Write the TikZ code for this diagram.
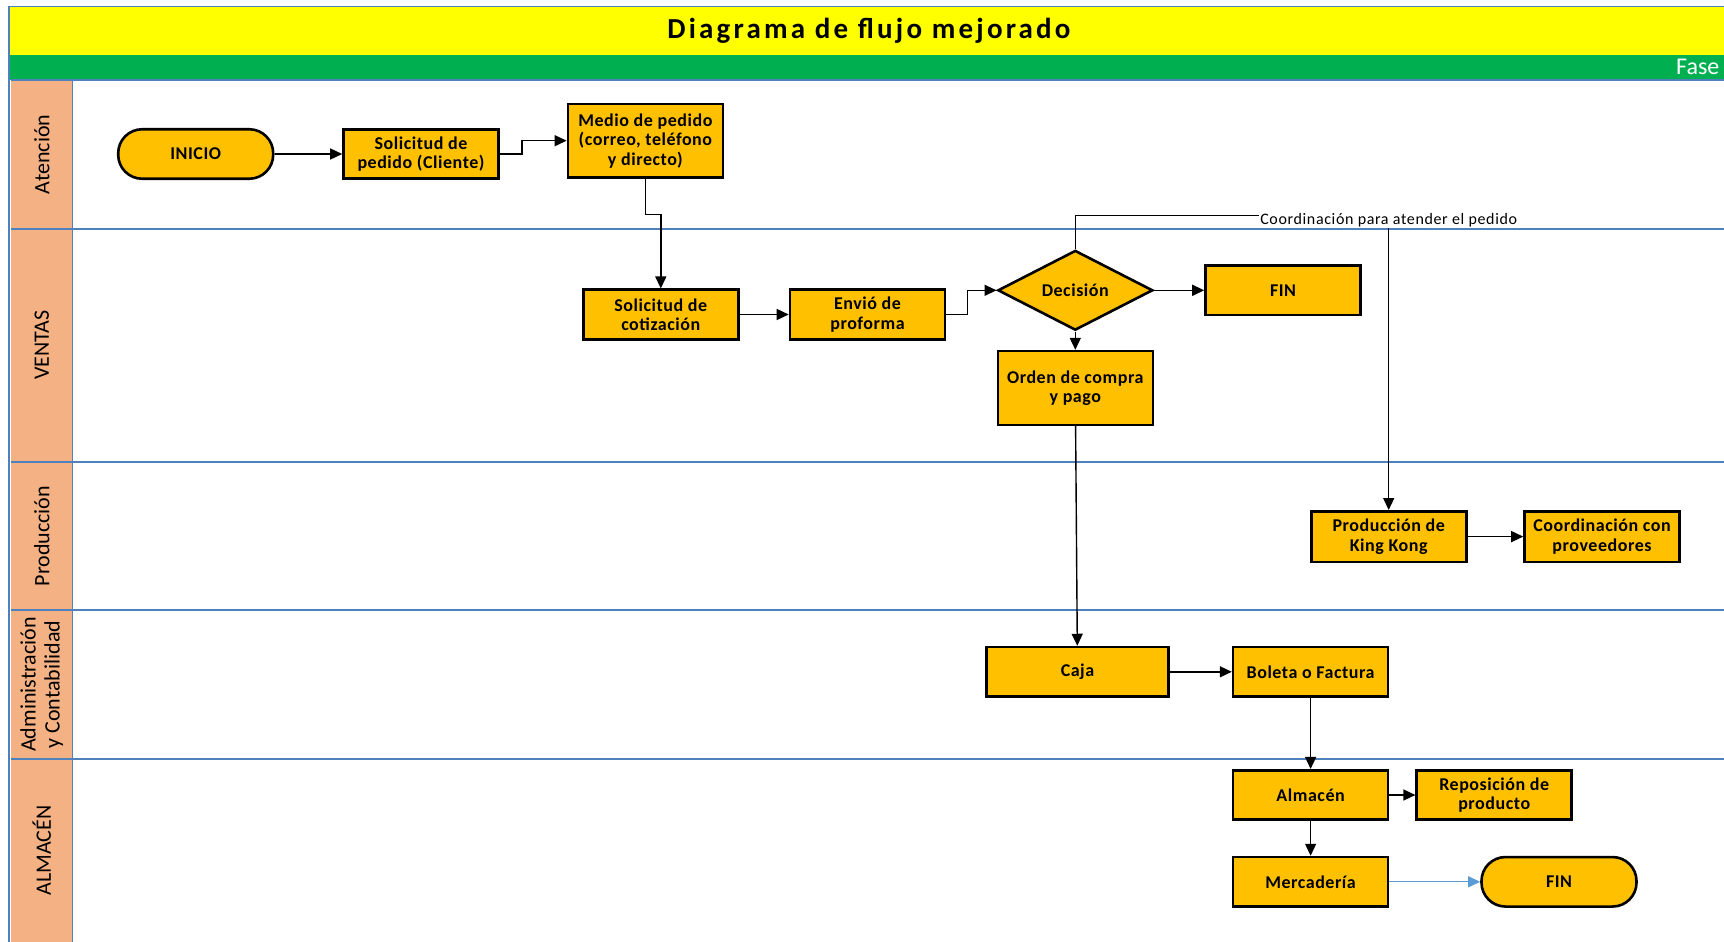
\documentclass[tikz,border=0pt]{standalone}
\usepackage{fontspec}
\setmainfont{Carlito}
\newfontfamily\boxfont[LetterSpace=3]{Carlito}
\newfontfamily\titlefont[LetterSpace=11]{Carlito}
\newfontfamily\notefont[LetterSpace=4]{Carlito}
\usepackage{xcolor}
\usetikzlibrary{arrows.meta,positioning,calc,shapes.geometric}
\definecolor{titleyellow}{HTML}{FFFF00}
\definecolor{phasegreen}{HTML}{00B050}
\definecolor{lanesalmon}{HTML}{F4B183}
\definecolor{boxorange}{HTML}{FFC000}
\definecolor{laneblue}{HTML}{4F81BD}
\definecolor{flowblue}{HTML}{5B9BD5}
\newcommand{\nodefont}{\boxfont\fontsize{18}{19.5}\selectfont\bfseries}

\begin{document}
\begin{tikzpicture}[x=1pt, y=-1pt,
    box/.style={draw=black, line width=2.6pt, fill=boxorange, align=center,
      minimum width=155pt, minimum height=49.5pt, inner sep=2pt, font=\nodefont},
    term/.style={box, rounded corners=24pt},
    deci/.style={box, diamond, minimum width=155pt, minimum height=74pt, inner sep=0pt},
    flow/.style={draw=black, line width=1.4pt, -{Triangle[length=12pt,width=11pt]}},
    lanesep/.style={draw=laneblue, line width=1.6pt},
    lanename/.style={rotate=90, align=center, font=\fontsize{22}{24}\selectfont}]
  \useasboundingbox (0,0) rectangle (1724,942);
  \clip (0,0) rectangle (1724,942);
  % ---- frame, title and phase band ----
  \fill[titleyellow] (8.8,6.6) rectangle (1724,55);
  \fill[phasegreen] (8.8,55) rectangle (1724,80);
  \draw[lanesep] (8.8,942) -- (8.8,6.6) -- (1724,6.6);
  \node[font=\titlefont\fontsize{29}{31}\selectfont\bfseries] (title) at (869,31) {Diagrama de flujo mejorado};
  \node[anchor=west, text=white, font=\fontsize{24}{26}\selectfont, inner sep=0pt] (phase) at (1676,67) {Fase};
  % ---- swimlanes ----
  \fill[lanesalmon] (11,80) rectangle (72.6,942);
  \foreach \yy in {80,228.7,461.8,610.2,758.7}
    \draw[lanesep] (11,\yy) -- (1724,\yy);
  \draw[lanesep] (72.6,80) -- (72.6,942);
  \node[lanename] (lane1) at (41.8,154.4) {Atención};
  \node[lanename] (lane2) at (41.8,345.3) {VENTAS};
  \node[lanename] (lane3) at (41.8,536) {Producción};
  \node[lanename] (lane4) at (41.8,684.5) {Administración\\y Contabilidad};
  \node[lanename] (lane5) at (41.8,850.4) {ALMACÉN};
  % ---- Atención ----
  \node[term] (inicio) at (195.7,154) {INICIO};
  \node[box] (solped) at (421,154) {Solicitud de\\pedido (Cliente)};
  \node[box, minimum height=73.7pt] (medio) at (645.4,140.7) {Medio de pedido\\(correo, teléfono\\y directo)};
  % ---- VENTAS ----
  \node[box] (solcot) at (660.8,314.5) {Solicitud de\\cotización};
  \node[box] (envio) at (867.5,314.5) {Envió de\\proforma};
  \node[deci] (decision) at (1075.3,290.3) {Decisión};
  \node[box] (fin1) at (1283,290.3) {FIN};
  \node[box, minimum height=73.7pt] (orden) at (1075.3,388) {Orden de compra\\y pago};
  % ---- Producción ----
  \node[box, minimum height=50.6pt] (kingkong) at (1388.7,536.6) {Producción de\\King Kong};
  \node[box, minimum height=50.6pt] (proveed) at (1602,536.6) {Coordinación con\\proveedores};
  % ---- Administración y Contabilidad ----
  \node[box, minimum width=182.5pt] (caja) at (1077.5,671.8) {Caja};
  \node[box] (boleta) at (1310.6,671.8) {Boleta o Factura};
  % ---- ALMACÉN ----
  \node[box] (almacen) at (1310.6,795) {Almacén};
  \node[box, right=26pt of almacen] (repos) {Reposición de\\producto};
  \node[box] (merca) at (1310.6,881.8) {Mercadería};
  \node[term] (fin2) at (1559,881.8) {FIN};
  % ---- connectors ----
  \coordinate (coordbend) at (1388.7,215.5);
  \draw[flow] (inicio) -- (solped);
  \draw[flow] (solped.east) -- (522,154) |- (medio.west);
  \draw[flow] (medio.south) |- (660.8,214.4) -- (solcot.north);
  \draw[flow] (solcot) -- (envio);
  \draw[flow] (envio.east) -- (967.6,314.5) |- (decision.west);
  \draw[flow] (decision) -- (fin1);
  \draw[flow] (decision) -- (orden);
  \draw[flow] (decision.north) |- (coordbend) -- (kingkong.north);
  \node[fill=white, inner sep=1pt, font=\notefont\fontsize{16}{18}\selectfont] (coordlbl) at (1388.7,220) {Coordinación para atender el pedido};
  \draw[flow] (kingkong) -- (proveed);
  \draw[flow] (orden) -- (caja);
  \draw[flow] (caja) -- (boleta);
  \draw[flow] (boleta) -- (almacen);
  \draw[flow] (almacen) -- (repos);
  \draw[flow] (almacen) -- (merca);
  \draw[flow, draw=flowblue, line width=1.2pt, -{Triangle[length=12pt,width=11pt,fill=flowblue]}] (merca) -- (fin2);
\end{tikzpicture}
\end{document}
